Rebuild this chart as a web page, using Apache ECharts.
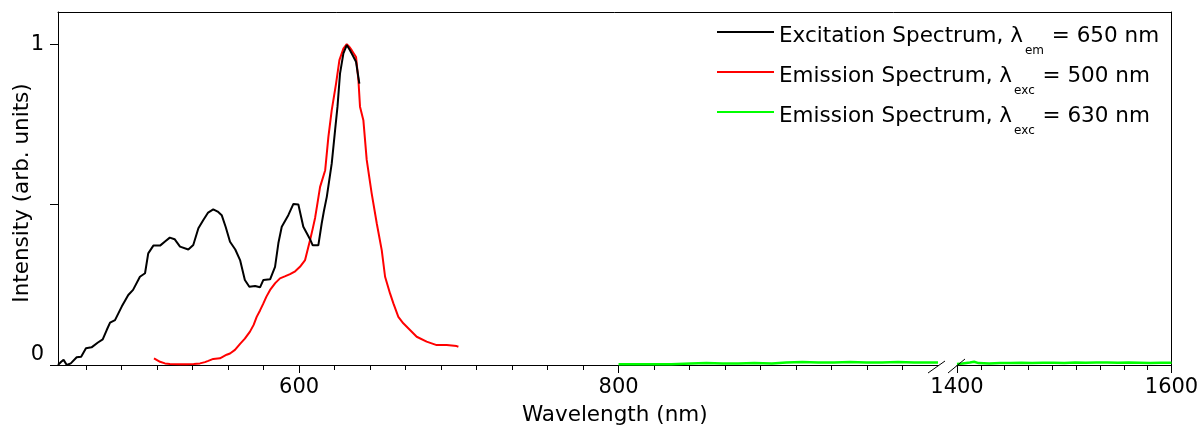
<!DOCTYPE html>
<html>
<head>
<meta charset="utf-8">
<script src="https://cdn.jsdelivr.net/npm/echarts@6.0.0/dist/echarts.min.js"></script>
<style>
  html, body { margin: 0; padding: 0; background: #fff; }
  #chart { width: 1200px; height: 428px; }
</style>
</head>
<body>
<div id="chart"></div>
<script>
// Excitation spectrum (emission monitored at 650 nm)
const excWavelength = [449, 451, 452.5, 454.5, 457, 460.7, 463.5, 466.5, 470, 474, 477, 479.5, 481.6, 484.7,
  488.9, 493, 496, 500.3, 503.5, 505.5, 508.7, 512.9, 516, 519, 522, 525.4, 530.6, 533.7, 536.9, 540, 543,
  546.2, 549, 551.5, 554, 556.7, 560, 563, 566, 568.8, 572.4, 575.5, 577.6, 581.8, 584.9, 587, 589.1, 593.2,
  596.4, 599.5, 602.6, 606.8, 608.5, 612, 614.1, 615.5, 617.3, 620.4, 622.5, 624, 625.6, 627.7, 629.8, 631.8,
  633.5, 635.6, 637.7];
const excIntensity = [0.000, 0.010, 0.016, 0.000, 0.005, 0.024, 0.026, 0.052, 0.055, 0.070, 0.080, 0.109, 0.132,
  0.140, 0.182, 0.218, 0.234, 0.275, 0.286, 0.348, 0.372, 0.372, 0.385, 0.397, 0.392, 0.369, 0.360, 0.374,
  0.426, 0.452, 0.475, 0.485, 0.478, 0.467, 0.430, 0.384, 0.360, 0.327, 0.265, 0.244, 0.246, 0.242, 0.265,
  0.267, 0.306, 0.380, 0.431, 0.467, 0.502, 0.500, 0.431, 0.392, 0.373, 0.373, 0.441, 0.480, 0.524, 0.628,
  0.732, 0.805, 0.909, 0.971, 0.997, 0.981, 0.965, 0.945, 0.877];

// Emission spectrum, excitation at 500 nm
const em500Wavelength = [509.1, 512.9, 516, 519, 525.4, 529.6, 534, 537.9, 541, 543.1, 546.2, 550.4, 554.6, 556.7,
  559.8, 563, 566, 569.2, 571.5, 573.4, 575.5, 577.6, 579.5, 581.8, 585, 588, 591, 594.3, 597.5, 600.5, 603.7,
  606.8, 608.5, 610, 611.5, 613.1, 616.3, 618.3, 620.4, 623.1, 625.2, 627.7, 629.8, 631.3, 632.9, 635.6, 637.1,
  638.1, 640.2, 642.3, 645.4, 648.6, 651.7, 653.8, 656.9, 659, 662.1, 665.2, 669.4, 673.6, 679.8, 686.1, 692.4,
  698.6, 699.7];
const em500Intensity = [0.021, 0.010, 0.005, 0.003, 0.002, 0.002, 0.003, 0.005, 0.009, 0.013, 0.019, 0.021, 0.032,
  0.036, 0.047, 0.066, 0.082, 0.104, 0.125, 0.150, 0.170, 0.192, 0.213, 0.234, 0.255, 0.270, 0.276, 0.283,
  0.292, 0.306, 0.327, 0.389, 0.425, 0.459, 0.505, 0.555, 0.607, 0.711, 0.794, 0.877, 0.950, 0.986, 1.000,
  0.992, 0.981, 0.960, 0.888, 0.805, 0.763, 0.639, 0.535, 0.441, 0.358, 0.275, 0.223, 0.192, 0.150, 0.130,
  0.109, 0.088, 0.073, 0.062, 0.062, 0.059, 0.057];

// Emission spectrum, excitation at 630 nm (visible/NIR part and IR part of the broken axis)
const em630WavelengthA = [800, 810, 820, 833, 834, 845, 855, 865, 875, 885, 896, 897, 905, 915, 925, 935, 945, 955,
  965, 975, 985, 995, 1000];
const em630IntensityA = [0.002, 0.002, 0.002, 0.002, 0.005, 0.005, 0.006, 0.005, 0.005, 0.006, 0.005, 0.008, 0.008,
  0.009, 0.008, 0.008, 0.009, 0.008, 0.008, 0.009, 0.008, 0.008, 0.008];
const em630WavelengthB = [1400, 1405, 1412, 1416, 1420, 1430, 1440, 1450, 1460, 1470, 1480, 1490, 1500, 1510, 1520,
  1530, 1540, 1550, 1560, 1570, 1580, 1590, 1600];
const em630IntensityB = [0.003, 0.005, 0.008, 0.010, 0.006, 0.005, 0.006, 0.006, 0.007, 0.006, 0.007, 0.007, 0.006,
  0.008, 0.007, 0.008, 0.008, 0.007, 0.008, 0.007, 0.006, 0.007, 0.007];

// Axis ranges and tick labels
const xRangeA = [449, 1000];
const xRangeB = [1400, 1600];
const xMajorA = [600, 800];
const xMajorB = [1400, 1600];
const minorDivisions = 9;
const yRange = [0, 1.1];
const yTicks = [0, 0.5, 1];
const yLabels = [0, 1];

// Legend text pieces: main text, subscript, tail
const legendMain = ['Excitation Spectrum, λ', 'Emission Spectrum, λ', 'Emission Spectrum, λ'];
const legendSub = ['em', 'exc', 'exc'];
const legendTail = [' = 650 nm', ' = 500 nm', ' = 630 nm'];
const colors = ['#000000', '#ff0000', '#00ff00'];

const names = legendMain.map((m, i) => m + legendSub[i] + legendTail[i]);

function minorTicks(range, majors) {
  const step = (majors[1] - majors[0]) / minorDivisions;
  const out = [];
  for (let v = majors[0] - step * 20; v <= range[1] + 1e-6; v += step) {
    if (v >= range[0] - 1e-6 && v < range[1] - 1) out.push(+v.toFixed(4));
  }
  return out.filter(v => !majors.some(m => Math.abs(m - v) < 1e-3));
}

const FONT = 'DejaVu Sans';
const pairs = (xs, ys) => xs.map((x, i) => [x, ys[i]]);
const axisLineStyle = { color: '#000', width: 1 };
const plain = v => String(v);

const labelStyle = { color: '#000', fontFamily: FONT, fontSize: 21, formatter: plain };

const chart = echarts.init(document.getElementById('chart'), null, { renderer: 'canvas' });

const option = {
  animation: false,
  backgroundColor: '#fff',
  grid: [
    { left: 58, top: 12, width: 880, height: 353, outerBoundsMode: 'none', containLabel: false },
    { left: 957, top: 12, width: 214.5, height: 353, outerBoundsMode: 'none', containLabel: false },
    { left: 58, top: 12, width: 1113.5, height: 353, outerBoundsMode: 'none', containLabel: false }
  ],
  legend: {
    orient: 'vertical',
    left: 712,
    top: 14,
    itemGap: 2,
    itemWidth: 57,
    itemHeight: 2,
    icon: 'rect',
    selectedMode: false,
    data: names,
    formatter: function (name) {
      const i = names.indexOf(name);
      return '{m|' + legendMain[i] + '}{s|' + legendSub[i] + '}{m|' + legendTail[i] + '}';
    },
    textStyle: {
      color: '#000',
      fontFamily: FONT,
      fontSize: 21.5,
      rich: {
        m: { fontFamily: FONT, fontSize: 21.5, color: '#000', lineHeight: 26, padding: [6, 0, 0, 0], verticalAlign: 'top' },
        s: { fontFamily: FONT, fontSize: 12, color: '#000', lineHeight: 12, padding: [26, 1, 0, 2], verticalAlign: 'top' }
      }
    }
  },
  xAxis: [
    {
      gridIndex: 0, type: 'value', min: xRangeA[0], max: xRangeA[1], position: 'bottom',
      axisLine: { show: true, onZero: false, lineStyle: axisLineStyle },
      axisTick: { show: true, length: 8, customValues: xMajorA, lineStyle: axisLineStyle },
      axisLabel: Object.assign({ customValues: xMajorA, margin: 12 }, labelStyle),
      splitLine: { show: false }
    },
    {
      gridIndex: 0, type: 'value', min: xRangeA[0], max: xRangeA[1], position: 'bottom',
      axisLine: { show: false, onZero: false },
      axisTick: { show: true, length: 5, customValues: minorTicks(xRangeA, xMajorA), lineStyle: axisLineStyle },
      axisLabel: { show: false },
      splitLine: { show: false }
    },
    {
      gridIndex: 1, type: 'value', min: xRangeB[0], max: xRangeB[1], position: 'bottom',
      axisLine: { show: true, onZero: false, lineStyle: axisLineStyle },
      axisTick: { show: true, length: 8, customValues: xMajorB, lineStyle: axisLineStyle },
      axisLabel: Object.assign({ customValues: xMajorB, margin: 12, showMinLabel: true, showMaxLabel: true }, labelStyle),
      splitLine: { show: false }
    },
    {
      gridIndex: 1, type: 'value', min: xRangeB[0], max: xRangeB[1], position: 'bottom',
      axisLine: { show: false, onZero: false },
      axisTick: { show: true, length: 5, customValues: minorTicks(xRangeB, xMajorB), lineStyle: axisLineStyle },
      axisLabel: { show: false },
      splitLine: { show: false }
    },
    {
      gridIndex: 2, type: 'value', min: 0, max: 1, position: 'bottom',
      axisLine: { show: false }, axisTick: { show: false }, axisLabel: { show: false }, splitLine: { show: false },
      name: 'Wavelength (nm)', nameLocation: 'middle', nameGap: 39,
      nameTextStyle: { color: '#000', fontFamily: FONT, fontSize: 21.5 }
    },
    {
      gridIndex: 2, type: 'value', min: 0, max: 1, position: 'top',
      axisLine: { show: true, onZero: false, lineStyle: axisLineStyle },
      axisTick: { show: false }, axisLabel: { show: false }, splitLine: { show: false }
    }
  ],
  yAxis: [
    {
      gridIndex: 0, type: 'value', min: yRange[0], max: yRange[1], position: 'left',
      axisLine: { show: true, onZero: false, lineStyle: axisLineStyle },
      axisTick: { show: true, length: 8, customValues: yTicks, lineStyle: axisLineStyle },
      axisLabel: Object.assign({ customValues: yLabels, margin: 14, verticalAlignMinLabel: 'bottom' }, labelStyle),
      splitLine: { show: false },
      name: 'Intensity (arb. units)', nameLocation: 'middle', nameGap: 25, nameMoveOverlap: false,
      nameTextStyle: { color: '#000', fontFamily: FONT, fontSize: 21.5, padding: [0, 9, 0, 0] }
    },
    {
      gridIndex: 1, type: 'value', min: yRange[0], max: yRange[1], show: false
    },
    {
      gridIndex: 2, type: 'value', min: 0, max: 1, position: 'right',
      axisLine: { show: true, onZero: false, lineStyle: axisLineStyle },
      axisTick: { show: false }, axisLabel: { show: false }, splitLine: { show: false }
    }
  ],
  series: [
    {
      name: names[0], type: 'line', xAxisIndex: 0, yAxisIndex: 0, showSymbol: false, symbol: 'none',
      lineStyle: { color: colors[0], width: 2 }, itemStyle: { color: colors[0] },
      data: pairs(excWavelength, excIntensity), z: 5
    },
    {
      name: names[1], type: 'line', xAxisIndex: 0, yAxisIndex: 0, showSymbol: false, symbol: 'none',
      lineStyle: { color: colors[1], width: 2 }, itemStyle: { color: colors[1] },
      data: pairs(em500Wavelength, em500Intensity), z: 4
    },
    {
      name: names[2], type: 'line', xAxisIndex: 0, yAxisIndex: 0, showSymbol: false, symbol: 'none',
      lineStyle: { color: colors[2], width: 2.5 }, itemStyle: { color: colors[2] },
      data: pairs(em630WavelengthA, em630IntensityA), z: 4
    },
    {
      name: names[2], type: 'line', xAxisIndex: 2, yAxisIndex: 1, showSymbol: false, symbol: 'none',
      lineStyle: { color: colors[2], width: 2.5 }, itemStyle: { color: colors[2] },
      data: pairs(em630WavelengthB, em630IntensityB), z: 4
    }
  ]
};

chart.setOption(option);

// Axis-break marks: two short slashes between the two x segments
const breakEnd = chart.convertToPixel({ xAxisIndex: 0 }, xRangeA[1]);
const breakStart = chart.convertToPixel({ xAxisIndex: 2 }, xRangeB[0]);
const axisY = chart.convertToPixel({ yAxisIndex: 0 }, yRange[0]);
chart.setOption({
  graphic: [
    { type: 'line', shape: { x1: breakEnd - 10, y1: axisY + 8, x2: breakEnd + 7, y2: axisY - 4 },
      style: { stroke: '#000', lineWidth: 1 }, z: 10 },
    { type: 'line', shape: { x1: breakStart - 9, y1: axisY + 8, x2: breakStart + 8, y2: axisY - 6 },
      style: { stroke: '#000', lineWidth: 1 }, z: 10 }
  ]
});
</script>
</body>
</html>
